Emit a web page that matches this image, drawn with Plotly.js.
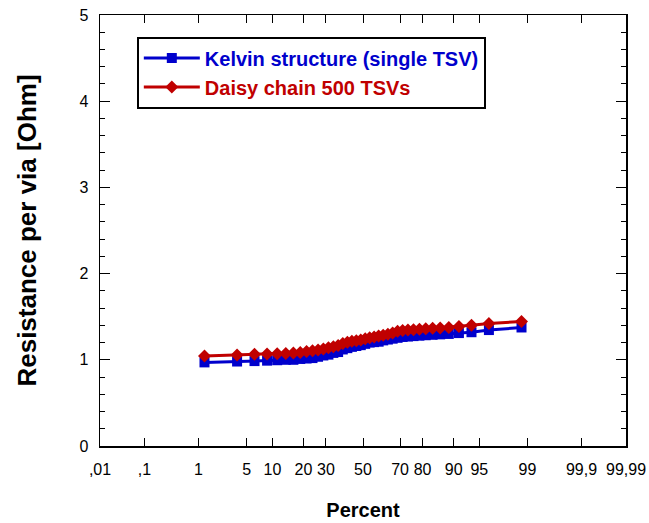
<!DOCTYPE html>
<html>
<head>
<meta charset="utf-8">
<script src="https://cdn.plot.ly/plotly-3.0.1.min.js"></script>
<style>html,body{margin:0;padding:0;background:#fff;}#chart{width:649px;height:523px;}</style>
</head>
<body>
<div id="chart"></div>
<script>
// Cumulative percent (probability scale) for each measured via
const percent = [1.25,3.75,6.25,8.75,11.25,13.75,16.25,18.75,21.25,23.75,
  26.25,28.75,31.25,33.75,36.25,38.75,41.25,43.75,46.25,48.75,
  51.25,53.75,56.25,58.75,61.25,63.75,66.25,68.75,71.25,73.75,
  76.25,78.75,81.25,83.75,86.25,88.75,91.25,93.75,96.25,98.75];

// Resistance per via [Ohm]
const kelvin = [0.97,0.98,0.985,0.99,0.995,1.0,1.0,1.01,1.015,1.02,
  1.035,1.05,1.06,1.08,1.09,1.12,1.135,1.15,1.16,1.17,
  1.185,1.2,1.205,1.21,1.225,1.235,1.245,1.255,1.265,1.27,
  1.275,1.28,1.285,1.29,1.295,1.30,1.31,1.32,1.345,1.375];
const daisy = [1.045,1.055,1.065,1.068,1.07,1.072,1.08,1.085,1.095,1.105,
  1.115,1.125,1.14,1.15,1.165,1.19,1.205,1.215,1.22,1.23,
  1.245,1.255,1.265,1.275,1.285,1.295,1.31,1.33,1.34,1.345,
  1.35,1.355,1.36,1.365,1.37,1.375,1.385,1.40,1.42,1.445];

// Probability-axis tick labels
const tickPercent = [0.01,0.1,1,5,10,20,30,50,70,80,90,95,99,99.9,99.99];
const tickLabels = [",01",",1","1","5","10","20","30","50","70","80","90","95","99","99,9","99,99"];

// inverse standard normal CDF (Acklam) -> normal probability scale
function probit(p){
  const a=[-3.969683028665376e+01,2.209460984245205e+02,-2.759285104469687e+02,1.383577518672690e+02,-3.066479806614716e+01,2.506628277459239e+00];
  const b=[-5.447609879822406e+01,1.615858368580409e+02,-1.556989798598866e+02,6.680131188771972e+01,-1.328068155288572e+01];
  const c=[-7.784894002430293e-03,-3.223964580411365e-01,-2.400758277161838e+00,-2.549732539343734e+00,4.374664141464968e+00,2.938163982698783e+00];
  const d=[7.784695709041462e-03,3.224671290700398e-01,2.445134137142996e+00,3.754408661907416e+00];
  const pl=0.02425, ph=1-pl;
  let q,r;
  if(p<pl){q=Math.sqrt(-2*Math.log(p));return (((((c[0]*q+c[1])*q+c[2])*q+c[3])*q+c[4])*q+c[5])/((((d[0]*q+d[1])*q+d[2])*q+d[3])*q+1);}
  if(p<=ph){q=p-0.5;r=q*q;return (((((a[0]*r+a[1])*r+a[2])*r+a[3])*r+a[4])*r+a[5])*q/(((((b[0]*r+b[1])*r+b[2])*r+b[3])*r+b[4])*r+1);}
  q=Math.sqrt(-2*Math.log(1-p));return -(((((c[0]*q+c[1])*q+c[2])*q+c[3])*q+c[4])*q+c[5])/((((d[0]*q+d[1])*q+d[2])*q+d[3])*q+1);
}
const z = v => probit(v/100);
const xs = percent.map(z);
const tickVals = tickPercent.map(z);
const zmax = z(99.99), zmin = z(0.01);

const blue = '#0000CC', red = '#C00000';
const font = 'Liberation Sans, Arial, Helvetica, sans-serif';

const traces = [
  {x: xs, y: kelvin, mode:'lines+markers', type:'scatter',
   name:'<b><span style="color:'+blue+'">Kelvin structure (single TSV)</span></b>',
   line:{color:blue,width:3}, marker:{symbol:'square',size:10,color:blue}, legendgroup:'a'},
  {x: xs, y: daisy, mode:'lines+markers', type:'scatter',
   name:'<b><span style="color:'+red+'">Daisy chain 500 TSVs</span></b>',
   line:{color:red,width:3}, marker:{symbol:'diamond',size:10,color:red}, legendgroup:'b'}
];

const layout = {
  width:649, height:523,
  margin:{l:100, r:23, t:15, b:77},
  paper_bgcolor:'#fff', plot_bgcolor:'#fff',
  font:{family:font, size:16, color:'#000'},
  showlegend:true,
  legend:{x:0.07, y:0.95, xanchor:'left', yanchor:'top', bgcolor:'#fff',
    bordercolor:'#000', borderwidth:2, font:{family:font,size:20},
    tracegroupgap:0, traceorder:'grouped', itemwidth:56},
  xaxis:{range:[zmin,zmax], tickvals:tickVals, ticktext:tickLabels,
    ticks:'inside', ticklen:8, tickcolor:'#000', tickwidth:1,
    showline:true, linecolor:'#000', linewidth:1.5, mirror:'ticks',
    showgrid:false, zeroline:false, tickfont:{size:16, family:font},
    ticklabelstandoff:8,
    title:{text:'<b>Percent</b>', font:{size:20, family:font}, standoff:26}},
  yaxis:{range:[0,5], dtick:1, tick0:0,
    ticks:'inside', ticklen:10, tickcolor:'#000', tickwidth:1,
    minor:{dtick:0.2, ticks:'inside', ticklen:5, tickcolor:'#000', showgrid:false},
    showline:true, linecolor:'#000', linewidth:1.5, mirror:'ticks',
    showgrid:false, zeroline:false, tickfont:{size:16, family:font},
    ticklabelstandoff:7,
    title:{text:'<b>Resistance per via [Ohm]</b>', font:{size:26, family:font}, standoff:35}}
};

Plotly.newPlot('chart', traces, layout, {displayModeBar:false, staticPlot:true});
</script>
</body>
</html>
